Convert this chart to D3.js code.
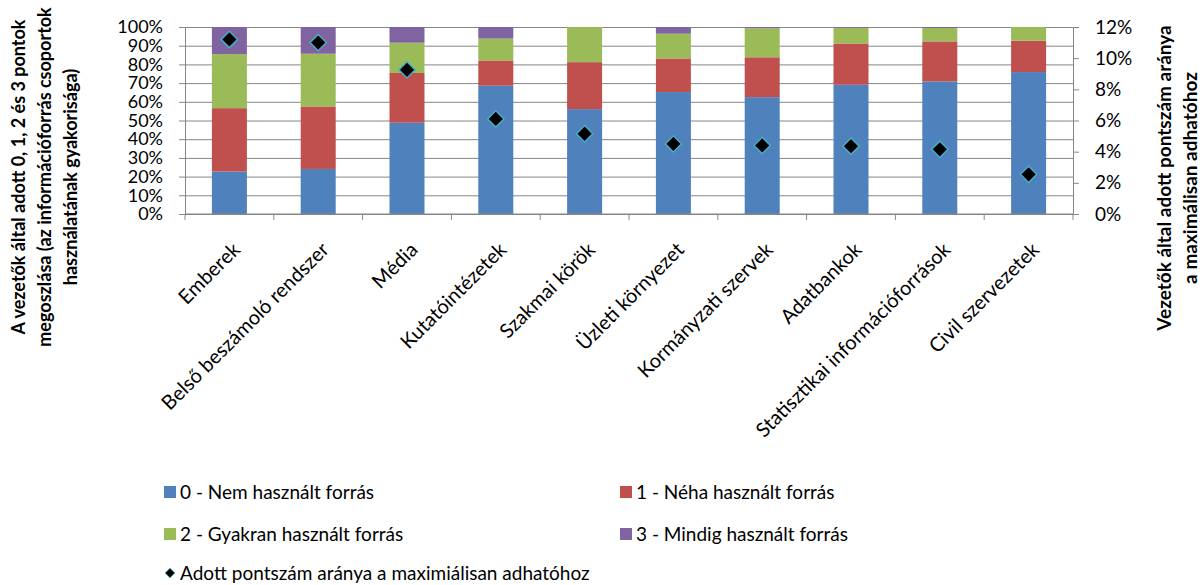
<!DOCTYPE html>
<html>
<head>
<meta charset="utf-8">
<script src="https://cdn.jsdelivr.net/npm/d3@7"></script>
<style>
  body { margin: 0; background: #fff; }
  text { font-family: Lato, "Open Sans", sans-serif; fill: #000; }
</style>
</head>
<body>
<div id="chart"></div>
<script>
// chart data
var categories = ["Emberek", "Belső beszámoló rendszer", "Média", "Kutatóintézetek", "Szakmai körök",
  "Üzleti környezet", "Kormányzati szervek", "Adatbankok", "Statisztikai információforrások", "Civil szervezetek"];
var nemHasznalt = [22.7, 24.1, 48.8, 68.6, 56.1, 65.2, 62.5, 69.1, 70.9, 75.9];
var nehaHasznalt = [33.9, 33.4, 26.6, 13.5, 25.1, 18.0, 21.3, 22.1, 21.4, 16.8];
var gyakranHasznalt = [28.9, 28.2, 16.2, 11.7, 18.8, 13.2, 15.5, 8.4, 7.2, 7.3];
var mindigHasznalt = [14.5, 14.3, 8.4, 6.2, 0, 3.6, 0.7, 0.4, 0.5, 0];
var pontszamArany = [11.2, 11.0, 9.25, 6.1, 5.15, 4.5, 4.4, 4.35, 4.15, 2.55];
var seriesNames = ["0 - Nem használt forrás", "1 - Néha használt forrás", "2 - Gyakran használt forrás", "3 - Mindig használt forrás"];
var lineName = "Adott pontszám aránya a maximiálisan adhatóhoz";
var leftTicks = [0, 10, 20, 30, 40, 50, 60, 70, 80, 90, 100];
var rightTicks = [0, 2, 4, 6, 8, 10, 12];

var colors = ["#4F81BD", "#C0504D", "#9BBB59", "#8064A2"];
var gridColor = "#868686";

var svgWidth = 1203, svgHeight = 585;
var margin = { top: 27, right: 130, bottom: 371, left: 185 };
var width = svgWidth - margin.left - margin.right;
var height = svgHeight - margin.top - margin.bottom;

var svg = d3.select("#chart").append("svg")
  .attr("width", svgWidth)
  .attr("height", svgHeight);
var chartGroup = svg.append("g")
  .attr("transform", `translate(${margin.left}, ${margin.top})`);

// build rows for the stack
var keys = ["k0", "k1", "k2", "k3"];
var rows = categories.map(function (c, i) {
  return { cat: c, k0: nemHasznalt[i], k1: nehaHasznalt[i], k2: gyakranHasznalt[i], k3: mindigHasznalt[i] };
});
var stacked = d3.stack().keys(keys)(rows);

var p = 1 - 35 / (width / categories.length);
var xScale = d3.scaleBand().domain(categories).range([0, width]).paddingInner(p).paddingOuter(p / 2);
var yLeft = d3.scaleLinear().domain([0, 100]).range([height, 0]);
var yRight = d3.scaleLinear().domain([0, 12]).range([height, 0]);
var step = xScale.step();

// gridlines
chartGroup.append("g")
  .attr("class", "grid")
  .call(d3.axisLeft(yLeft).tickValues(leftTicks).tickSize(-width).tickFormat(""))
  .call(g => g.select(".domain").remove())
  .selectAll("line").attr("stroke", gridColor);

// bars
chartGroup.selectAll(".layer")
  .data(stacked)
  .enter()
  .append("g")
  .attr("class", "layer")
  .attr("fill", (d, i) => colors[i])
  .selectAll("rect")
  .data(d => d)
  .enter()
  .append("rect")
  .attr("x", d => xScale(d.data.cat))
  .attr("y", d => yLeft(d[1]))
  .attr("width", xScale.bandwidth())
  .attr("height", d => yLeft(d[0]) - yLeft(d[1]));

// left axis
var leftAxis = chartGroup.append("g")
  .call(d3.axisLeft(yLeft).tickValues(leftTicks).tickSize(6).tickPadding(16).tickFormat(d => d + "%"));
leftAxis.selectAll("line, path").attr("stroke", gridColor);
leftAxis.selectAll("text").attr("font-size", "18px").attr("fill", "#000");

// right axis
var rightAxis = chartGroup.append("g")
  .attr("transform", `translate(${width}, 0)`)
  .call(d3.axisRight(yRight).tickValues(rightTicks).tickSize(6).tickPadding(16).tickFormat(d => d + "%"));
rightAxis.selectAll("line, path").attr("stroke", gridColor);
rightAxis.selectAll("text").attr("font-size", "19px").attr("fill", "#000");

// bottom axis, ticks between the categories
var bottom = chartGroup.append("g").attr("transform", `translate(0, ${height})`);
bottom.append("line")
  .attr("x1", 0).attr("x2", width)
  .attr("stroke", gridColor);
var boundaries = categories.map(c => xScale(c) + xScale.bandwidth() / 2 - step / 2).concat([width]);
bottom.selectAll(".btick")
  .data(boundaries)
  .enter()
  .append("line")
  .attr("x1", d => d).attr("x2", d => d)
  .attr("y1", 0).attr("y2", 6)
  .attr("stroke", gridColor);
bottom.selectAll(".xlabel")
  .data(categories)
  .enter()
  .append("text")
  .attr("transform", d => `translate(${xScale(d) + xScale.bandwidth() / 2 + 7}, 32) rotate(-45)`)
  .attr("text-anchor", "end")
  .attr("dy", "0.35em")
  .attr("font-size", "20px")
  .text(d => d);

// diamonds on the right axis
var diamond = d3.symbol().type(d3.symbolDiamond2).size(170);
chartGroup.selectAll(".marker")
  .data(pontszamArany)
  .enter()
  .append("path")
  .attr("d", diamond)
  .attr("transform", (d, i) => `translate(${xScale(categories[i]) + xScale.bandwidth() / 2}, ${yRight(d)})`)
  .attr("fill", "#000")
  .attr("stroke", "#4BACC6")
  .attr("stroke-width", 1.5);

// axis titles
var leftTitle = ["A vezetők által adott 0, 1, 2 és 3 pontok", "megoszlása (az információforrás csoportok", "használatának gyakorisága)"];
svg.selectAll(".ltitle")
  .data(leftTitle)
  .enter()
  .append("text")
  .attr("transform", (d, i) => `translate(${19 + i * 26}, 177) rotate(-90)`)
  .attr("text-anchor", "middle")
  .attr("dy", "0.35em")
  .attr("font-size", "18px")
  .attr("font-weight", "bold")
  .text(d => d);

var rightTitle = ["Vezetők által adott pontszám aránya", "a maximálisan adhatóhoz"];
svg.selectAll(".rtitle")
  .data(rightTitle)
  .enter()
  .append("text")
  .attr("transform", (d, i) => `translate(${1164 + i * 26}, 178) rotate(-90)`)
  .attr("text-anchor", "middle")
  .attr("dy", "0.35em")
  .attr("font-size", "19px")
  .attr("font-weight", "bold")
  .text(d => d);

// legend
var legendPos = [[164, 492], [620, 492], [164, 534], [620, 534]];
var legend = svg.append("g");
seriesNames.forEach(function (name, i) {
  var g = legend.append("g").attr("transform", `translate(${legendPos[i][0]}, ${legendPos[i][1]})`);
  g.append("rect").attr("x", 0).attr("y", -6).attr("width", 12).attr("height", 12).attr("fill", colors[i]);
  g.append("text").attr("x", 16).attr("dy", "0.35em").attr("font-size", "19px").text(name);
});
var lg = legend.append("g").attr("transform", "translate(164, 573)");
lg.append("path")
  .attr("d", d3.symbol().type(d3.symbolDiamond2).size(60))
  .attr("transform", "translate(6, 0)")
  .attr("fill", "#000")
  .attr("stroke", "#4BACC6");
lg.append("text").attr("x", 16).attr("dy", "0.35em").attr("font-size", "19px").text(lineName);
</script>
</body>
</html>
